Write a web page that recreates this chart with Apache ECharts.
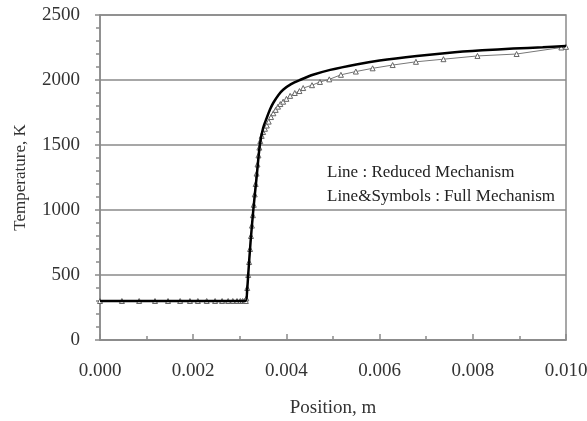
<!DOCTYPE html>
<html lang="en">
<head>
    <meta charset="UTF-8">
    <title>Temperature profile</title>
    <script src="https://cdn.jsdelivr.net/npm/echarts@6.0.0/dist/echarts.min.js"></script>
    <style>
        body { margin: 0; background: #fff; }
        #chart { width: 587px; height: 421px; }
    </style>
</head>
<body>
<div id="chart"></div>
<script>
// reduced mechanism (thick line): [position m, temperature K]
const reducedPos = [0, 0.00312, 0.00316, 0.00318, 0.00323, 0.00329, 0.00336, 0.00343, 0.0035, 0.00358,
    0.00365, 0.00372, 0.00383, 0.00393, 0.0041, 0.00429, 0.00457, 0.00494, 0.0055, 0.006,
    0.0068, 0.00745, 0.0082, 0.00887, 0.0095, 0.01];
const reducedT = [300, 300, 400, 500, 750, 1000, 1250, 1500, 1630, 1710,
    1775, 1825, 1885, 1925, 1968, 2000, 2040, 2078, 2120, 2150,
    2185, 2208, 2228, 2242, 2252, 2262];

// full mechanism (line & symbols), grid points of the solution
const fullPos = [0, 0.00047, 0.00084, 0.00118, 0.00146, 0.00172, 0.00193, 0.0021, 0.00229, 0.00247,
    0.00262, 0.00275, 0.00285, 0.00294, 0.00301, 0.00306, 0.0031, 0.00313,
    0.00314, 0.00316, 0.00318, 0.0032, 0.00322, 0.00324, 0.00326, 0.00328, 0.0033, 0.00332,
    0.00334, 0.00336, 0.00338, 0.0034, 0.00342, 0.00344, 0.00347, 0.0035, 0.00354, 0.00358,
    0.00362, 0.00367, 0.00372, 0.00377, 0.00382, 0.00387, 0.00393, 0.004, 0.00408, 0.00418,
    0.00428, 0.00436, 0.00455, 0.00472, 0.00492, 0.00517, 0.00549, 0.00585, 0.00628, 0.00678,
    0.00737, 0.0081, 0.00894, 0.0099, 0.01];
const fullT = [300, 300, 300, 300, 300, 300, 300, 300, 300, 300,
    300, 300, 300, 300, 300, 300, 300, 300,
    320, 400, 500, 600, 700, 800, 880, 960, 1040, 1120,
    1200, 1280, 1350, 1420, 1480, 1530, 1570, 1600, 1625, 1650,
    1680, 1715, 1744, 1770, 1795, 1815, 1833, 1855, 1878, 1900,
    1915, 1938, 1960, 1985, 2005, 2040, 2065, 2090, 2115, 2140,
    2160, 2185, 2200, 2250, 2255];

const yTicks = [0, 500, 1000, 1500, 2000, 2500];
const xTicks = [0, 0.002, 0.004, 0.006, 0.008, 0.01];

const serif = 'Liberation Serif';
const axisGray = '#8a8a8a';
const textColor = '#333';

const chart = echarts.init(document.getElementById('chart'));

chart.setOption({
    animation: false,
    grid: {
        left: 100, right: 21, top: 15, bottom: 81,
        outerBoundsMode: 'none',
        show: true, borderColor: axisGray, borderWidth: 1.5
    },
    xAxis: {
        type: 'value',
        min: xTicks[0], max: xTicks[xTicks.length - 1], interval: 0.002,
        name: 'Position, m',
        nameLocation: 'middle', nameGap: 59,
        nameTextStyle: { fontFamily: serif, fontSize: 19, color: textColor },
        axisLine: { lineStyle: { color: axisGray, width: 1.5 } },
        axisTick: { inside: true, length: 6, lineStyle: { color: axisGray, width: 1.5 } },
        minorTick: { show: true, splitNumber: 2, length: 4, lineStyle: { color: axisGray, width: 1.5 } },
        axisLabel: {
            margin: 22, fontFamily: serif, fontSize: 19, color: textColor,
            formatter: v => v.toFixed(3)
        },
        splitLine: { show: false }
    },
    yAxis: {
        type: 'value',
        min: yTicks[0], max: yTicks[yTicks.length - 1], interval: 500,
        name: 'Temperature, K',
        nameLocation: 'middle', nameGap: 71,
        nameTextStyle: { fontFamily: serif, fontSize: 17, color: textColor },
        axisLine: { show: true, lineStyle: { color: axisGray, width: 1.5 } },
        axisTick: { show: true, length: 5, lineStyle: { color: axisGray, width: 1.5 } },
        minorTick: { show: true, splitNumber: 5, length: 4, lineStyle: { color: axisGray, width: 1.5 } },
        axisLabel: {
            margin: 20, fontFamily: serif, fontSize: 19, color: textColor,
            formatter: v => String(v)
        },
        splitLine: { show: true, lineStyle: { color: axisGray, width: 1.5 } }
    },
    series: [
        {
            name: 'Full Mechanism',
            type: 'line',
            data: fullPos.map((x, i) => [x, fullT[i]]),
            symbol: 'triangle',
            symbolSize: 5,
            lineStyle: { color: '#777', width: 1 },
            itemStyle: { color: '#fff', borderColor: '#666', borderWidth: 1 },
            z: 2
        },
        {
            name: 'Reduced Mechanism',
            type: 'line',
            data: reducedPos.map((x, i) => [x, reducedT[i]]),
            smooth: 0.3,
            showSymbol: false,
            lineStyle: { color: '#000', width: 2.5 },
            z: 3
        }
    ],
    graphic: [
        {
            type: 'text', left: 327, top: 164,
            style: { text: 'Line : Reduced Mechanism', font: '17px "Liberation Serif"', fill: '#222' }
        },
        {
            type: 'text', left: 327, top: 188,
            style: { text: 'Line&Symbols : Full Mechanism', font: '17px "Liberation Serif"', fill: '#222' }
        }
    ]
});
</script>
</body>
</html>
